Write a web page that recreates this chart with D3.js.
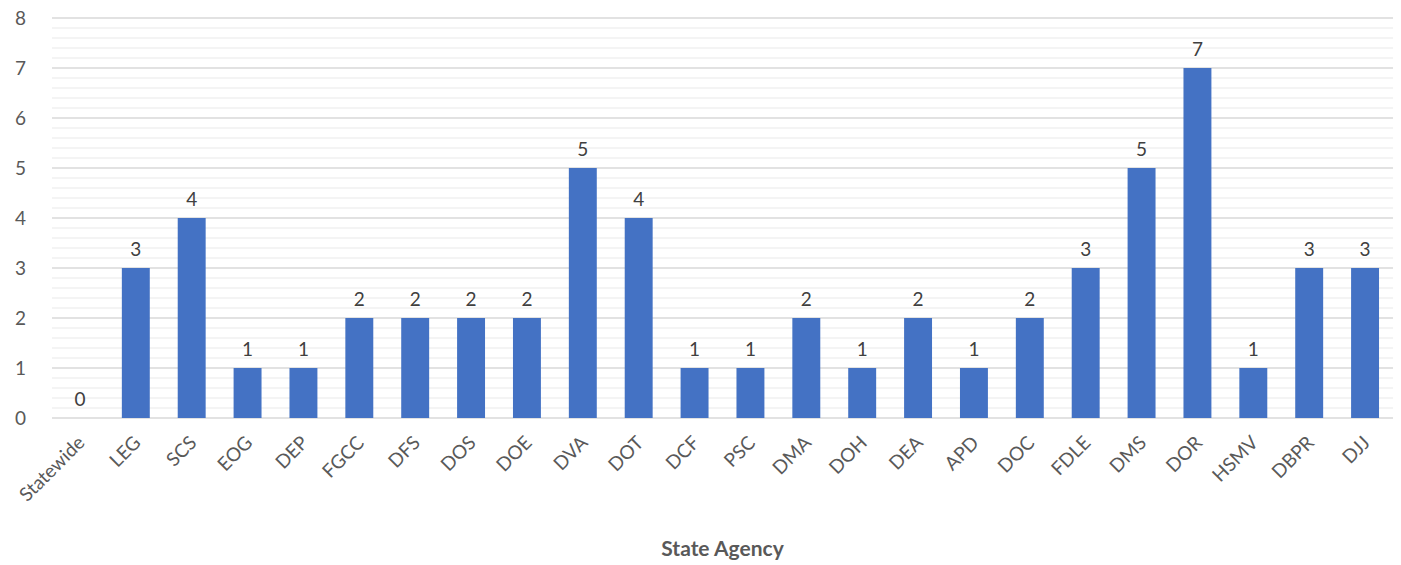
<!DOCTYPE html>
<html>
<head>
<meta charset="utf-8">
<script src="https://cdn.jsdelivr.net/npm/d3@7"></script>
<style>
  body { margin: 0; background: #fff; }
  text { font-family: Lato, "Open Sans", sans-serif; }
</style>
</head>
<body>
<svg id="chart" width="1401" height="565"></svg>
<script>
var agencies = ["Statewide", "LEG", "SCS", "EOG", "DEP", "FGCC", "DFS", "DOS", "DOE", "DVA", "DOT", "DCF",
                "PSC", "DMA", "DOH", "DEA", "APD", "DOC", "FDLE", "DMS", "DOR", "HSMV", "DBPR", "DJJ"];
var counts = [0, 3, 4, 1, 1, 2, 2, 2, 2, 5, 4, 1, 1, 2, 1, 2, 1, 2, 3, 5, 7, 1, 3, 3];
var yTicks = [0, 1, 2, 3, 4, 5, 6, 7, 8];

var svg = d3.select("#chart");
var plotLeft = 52, plotRight = 1393, plotTop = 18, plotBottom = 418;

var x = d3.scaleBand().domain(agencies).range([plotLeft, plotRight]).paddingInner(0.5).paddingOuter(0.25);
var y = d3.scaleLinear().domain([0, 8]).range([plotBottom, plotTop]);

// minor gridlines
var minor = d3.range(0, 8.001, 0.2).filter(function(v) { return Math.abs(v - Math.round(v)) > 0.01; });
svg.append("g").selectAll("line").data(minor).enter().append("line")
  .attr("x1", plotLeft).attr("x2", plotRight)
  .attr("y1", function(d) { return y(d); }).attr("y2", function(d) { return y(d); })
  .attr("stroke", "#f0f0f0").attr("stroke-width", 1.3);

// major gridlines
svg.append("g").selectAll("line").data(yTicks).enter().append("line")
  .attr("x1", plotLeft).attr("x2", plotRight)
  .attr("y1", function(d) { return y(d); }).attr("y2", function(d) { return y(d); })
  .attr("stroke", "#d9d9d9").attr("stroke-width", 1.5);

// y labels
svg.append("g").selectAll("text").data(yTicks).enter().append("text")
  .attr("x", 26).attr("y", function(d) { return y(d) + 7; })
  .attr("text-anchor", "end")
  .attr("fill", "#595959").attr("font-size", 19)
  .text(function(d) { return d; });

// bars
svg.append("g").selectAll("rect").data(counts).enter().append("rect")
  .attr("x", function(d, i) { return x(agencies[i]); })
  .attr("width", x.bandwidth())
  .attr("y", function(d) { return y(d); })
  .attr("height", function(d) { return y(0) - y(d); })
  .attr("fill", "#4472c4");

// value labels
svg.append("g").selectAll("text").data(counts).enter().append("text")
  .attr("x", function(d, i) { return x(agencies[i]) + x.bandwidth() / 2; })
  .attr("y", function(d) { return y(d) - 12; })
  .attr("text-anchor", "middle")
  .attr("fill", "#404040").attr("font-size", 19)
  .text(function(d) { return d; });

// x labels, rotated
svg.append("g").selectAll("text").data(agencies).enter().append("text")
  .attr("transform", function(d) {
    return "translate(" + (x(d) + x.bandwidth() / 2 + 6) + "," + 444 + ") rotate(-45)";
  })
  .attr("text-anchor", "end")
  .attr("fill", "#595959").attr("font-size", 19)
  .text(function(d) { return d; });

// axis title
svg.append("text")
  .attr("x", (plotLeft + plotRight) / 2).attr("y", 556)
  .attr("text-anchor", "middle")
  .attr("font-weight", "bold").attr("font-size", 21)
  .attr("fill", "#595959")
  .text("State Agency");
</script>
</body>
</html>
